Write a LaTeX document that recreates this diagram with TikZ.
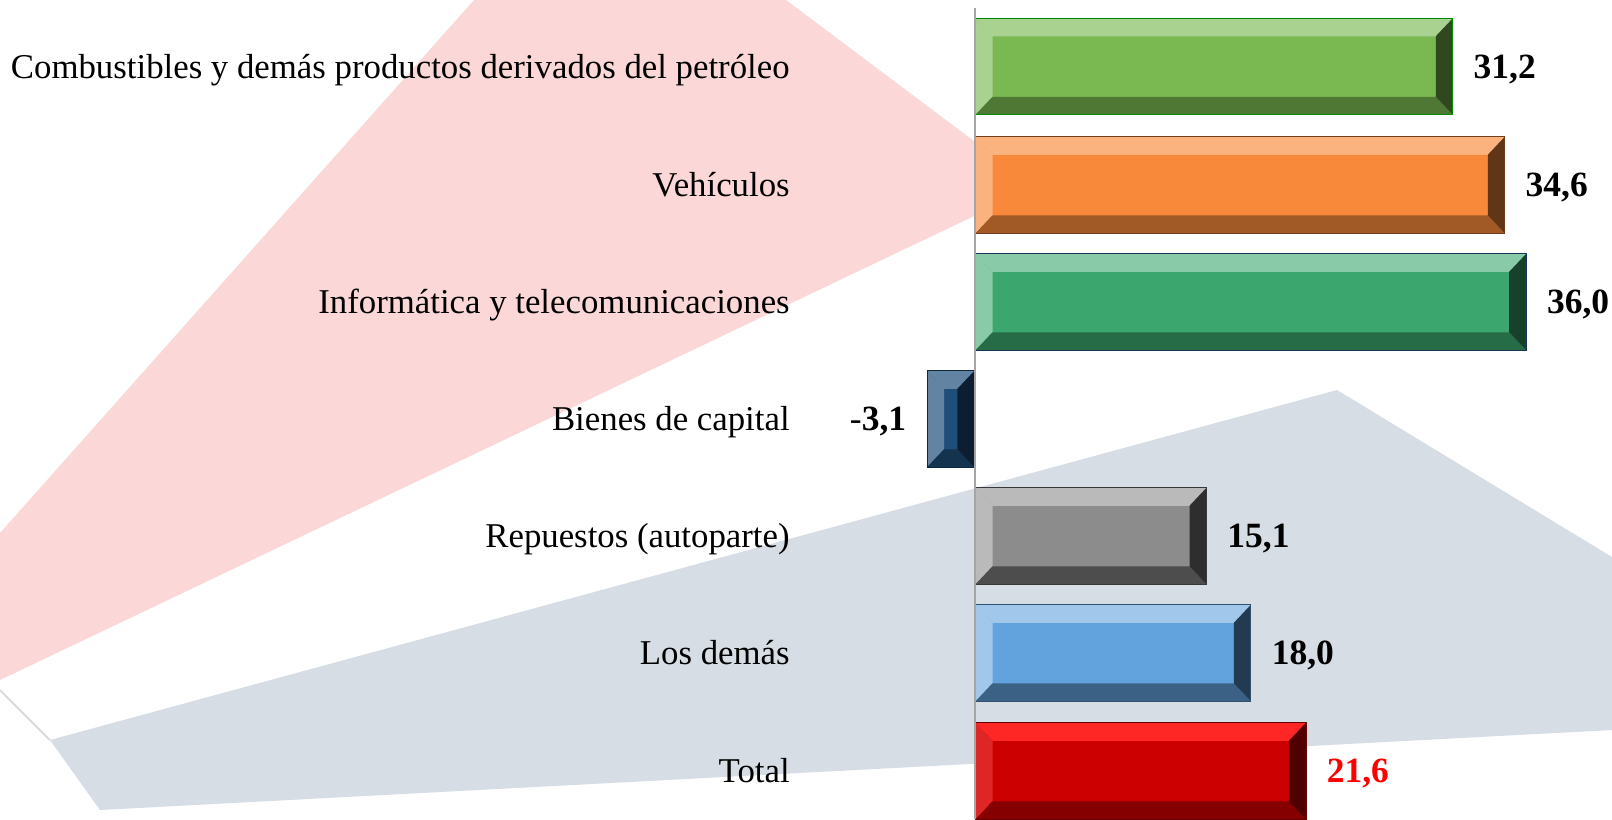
\documentclass[tikz,border=0pt]{standalone}
\usepackage{fontspec}
\setmainfont{Liberation Serif}
\usepackage{xcolor}
\usepackage{tikz}
\usetikzlibrary{positioning}

\definecolor{bgpink}{RGB}{251,215,215}
\definecolor{bgblue}{RGB}{215,221,229}
\definecolor{axisgray}{RGB}{165,165,165}
\definecolor{cgreen}{RGB}{122,184,82}
\definecolor{corange}{RGB}{248,137,58}
\definecolor{cteal}{RGB}{59,166,110}
\definecolor{cnavy}{RGB}{31,78,121}
\definecolor{cgray}{RGB}{140,140,140}
\definecolor{csky}{RGB}{98,163,221}
\definecolor{cred}{RGB}{204,0,0}

\begin{document}
\begin{tikzpicture}[x=0.02cm, y=-0.02cm,
  cat/.style = {anchor=east, inner sep=0pt, text height=0.46cm, text depth=0pt,
    font=\fontsize{19.8}{23}\selectfont},
  val/.style = {inner sep=0pt, text height=0.46cm, text depth=0pt,
    font=\fontsize{20.2}{23}\selectfont\bfseries},
  bar/.style n args={4}{draw=#4, fill=#1, line width=0.6pt, inner sep=0pt,
    minimum height=1.93cm,
    path picture={
      \coordinate (nw) at (path picture bounding box.north west);
      \coordinate (ne) at (path picture bounding box.north east);
      \coordinate (sw) at (path picture bounding box.south west);
      \coordinate (se) at (path picture bounding box.south east);
      \fill[#2] (nw) -- (ne) -- ([shift={(-0.34cm,-0.36cm)}]ne) -- ([shift={(0.34cm,-0.36cm)}]nw) -- cycle;
      \fill[#1!75!#2] (nw) -- (sw) -- ([shift={(0.34cm,0.36cm)}]sw) -- ([shift={(0.34cm,-0.36cm)}]nw) -- cycle;
      \fill[#3] (sw) -- (se) -- ([shift={(-0.34cm,0.36cm)}]se) -- ([shift={(0.34cm,0.36cm)}]sw) -- cycle;
      \fill[#3!60!black] (ne) -- (se) -- ([shift={(-0.34cm,0.36cm)}]se) -- ([shift={(-0.34cm,-0.36cm)}]ne) -- cycle;
    }}]
  \useasboundingbox (0,0) rectangle (1612,819);
  \fill[white] (0,0) rectangle (1612,819);

  % background wedges
  \fill[bgpink] (474,0) -- (786,0) -- (1035,187) -- (0,680) -- (0,533) -- cycle;
  \fill[bgblue] (50,740) -- (1337,390) -- (1612,557) -- (1612,730) -- (100,810) -- cycle;
  \draw[gray!30, line width=1pt] (0,690) -- (50,740);

  % bars
  \node[bar={cgreen}{cgreen!65!white}{cgreen!65!black}{green!55!black}, anchor=west, minimum width=9.547cm] (b1) at (975,66.5) {};
  \node[bar={corange}{corange!65!white}{corange!65!black}{corange!45!black}, anchor=west, minimum width=10.588cm] (b2) at (975,185) {};
  \node[bar={cteal}{cteal!60!white}{cteal!65!black}{cnavy!70!black}, anchor=west, minimum width=11.016cm] (b3) at (975,302) {};
  \node[bar={cnavy}{cnavy!70!white}{cnavy!65!black}{cnavy!50!black}, anchor=east, minimum width=0.949cm] (b4) at (975,419) {};
  \node[bar={cgray}{cgray!60!white}{cgray!55!black}{cgray!40!black}, anchor=west, minimum width=4.621cm] (b5) at (975,536) {};
  \node[bar={csky}{csky!60!white}{csky!60!black}{csky!50!black}, anchor=west, minimum width=5.508cm] (b6) at (975,653) {};
  \node[bar={cred}{red!85!white}{cred!65!black}{cred!50!black}, anchor=west, minimum width=6.610cm] (b7) at (975,771) {};

  \draw[axisgray, line width=1.2pt] (975,8) -- (975,819);

  % category labels
  \node[cat] (c1) at (790,66.5) {Combustibles y demás productos derivados del petróleo};
  \node[cat] (c2) at (790,185) {Vehículos};
  \node[cat] (c3) at (790,302) {Informática y telecomunicaciones};
  \node[cat] (c4) at (790,419) {Bienes de capital};
  \node[cat] (c5) at (790,536) {Repuestos (autoparte)};
  \node[cat] (c6) at (790,653) {Los demás};
  \node[cat] (c7) at (790,771) {Total};

  % values
  \node[val] (v1) [right=0.4cm of b1] {31,2};
  \node[val] (v2) [right=0.4cm of b2] {34,6};
  \node[val] (v3) [right=0.4cm of b3] {36,0};
  \node[val] (v4) [left=0.4cm of b4] {{\mdseries -}3,1};
  \node[val] (v5) [right=0.4cm of b5] {15,1};
  \node[val] (v6) [right=0.4cm of b6] {18,0};
  \node[val, text=red] (v7) [right=0.4cm of b7] {21,6};
\end{tikzpicture}
\end{document}
